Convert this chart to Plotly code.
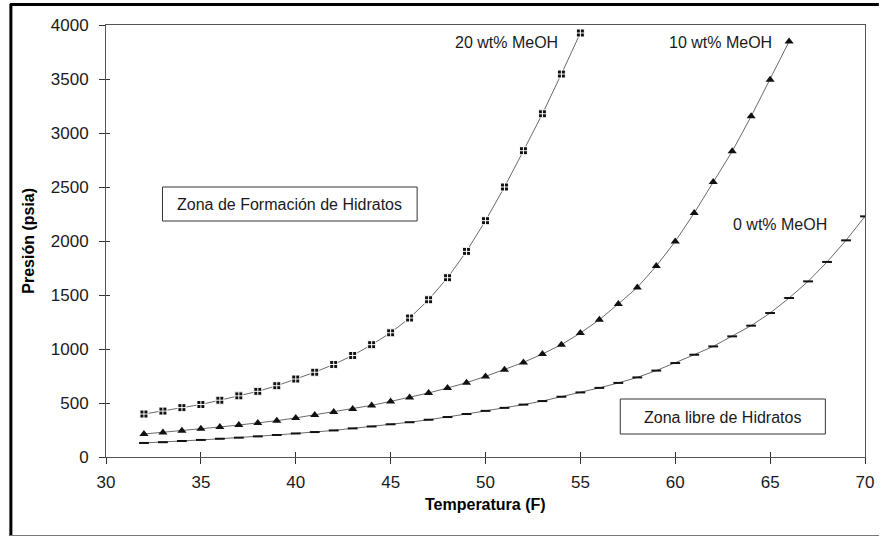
import plotly.graph_objects as go

# Temperatures (F)
temp_20 = list(range(32, 56))
temp_10 = list(range(32, 67))
temp_0 = list(range(32, 71))

# Hydrate formation pressure (psia)
pres_20 = [398, 425, 457, 486, 526, 566, 608, 660, 722, 785, 857, 940, 1040, 1150,
           1287, 1456, 1660, 1904, 2188, 2500, 2836, 3178, 3546, 3926]
pres_10 = [213, 228, 243, 262, 278, 296, 315, 336, 362, 390, 416, 444, 478, 515,
           552, 593, 639, 688, 746, 808, 876, 954, 1040, 1148, 1271, 1417, 1570,
           1768, 1996, 2259, 2546, 2830, 3154, 3494, 3848]
pres_0 = [130, 137, 148, 158, 169, 179, 191, 204, 218, 231, 246, 265, 283, 303,
          322, 345, 370, 398, 427, 455, 485, 518, 558, 598, 640, 686, 737, 800,
          870, 947, 1024, 1117, 1216, 1333, 1472, 1626, 1806, 2006, 2228]

x_ticks = [30, 35, 40, 45, 50, 55, 60, 65, 70]
y_ticks = [0, 500, 1000, 1500, 2000, 2500, 3000, 3500, 4000]

series_labels = ["20 wt% MeOH", "10 wt% MeOH", "0 wt% MeOH"]
zone_labels = ["Zona de Formación de Hidratos", "Zona libre de Hidratos"]

FONT = "Liberation Sans, Arial, sans-serif"
LINE_C = "#6a6a6a"

fig = go.Figure()
fig.add_trace(go.Scatter(
    x=temp_20, y=pres_20, mode="lines+markers", name=series_labels[0],
    line=dict(color=LINE_C, width=1),
    marker=dict(symbol="square-cross", size=8, color="#111111",
                line=dict(color="white", width=1))))
fig.add_trace(go.Scatter(
    x=temp_10, y=pres_10, mode="lines+markers", name=series_labels[1],
    line=dict(color=LINE_C, width=1),
    marker=dict(symbol="triangle-up", size=8, color="#111111")))
fig.add_trace(go.Scatter(
    x=temp_0, y=pres_0, mode="lines+markers", name=series_labels[2],
    line=dict(color=LINE_C, width=1),
    marker=dict(symbol="line-ew", size=7, color="#111111",
                line=dict(color="#111111", width=2))))
# empty trace to activate overlay axes (inner halves of crossing ticks)
fig.add_trace(go.Scatter(x=[], y=[], xaxis="x2", yaxis="y2", showlegend=False,
                         hoverinfo="skip"))

axis_common = dict(showgrid=False, zeroline=False,
                   tickfont=dict(family=FONT, size=17, color="#1a1a1a"))

fig.update_layout(
    width=886, height=537,
    margin=dict(l=106, r=14, t=25, b=80),
    paper_bgcolor="white", plot_bgcolor="white",
    showlegend=False,
    font=dict(family=FONT, color="#1a1a1a"),
    xaxis=dict(range=[30, 70], tickvals=x_ticks, ticks="outside", ticklen=6,
               tickwidth=1, tickcolor="#333", showline=True, linecolor="#555",
               linewidth=1, mirror=True, ticklabelstandoff=4, **axis_common),
    yaxis=dict(range=[0, 4000], tickvals=y_ticks, ticks="outside", ticklen=6,
               tickwidth=1, tickcolor="#333", showline=True, linecolor="#555",
               linewidth=1, mirror=True, ticklabelstandoff=7, **axis_common),
    xaxis2=dict(range=[30, 70], tickvals=x_ticks, ticks="inside", ticklen=5,
                tickwidth=1, tickcolor="#333", showline=False, showgrid=False,
                zeroline=False, showticklabels=False, overlaying="x", anchor="y2"),
    yaxis2=dict(range=[0, 4000], tickvals=y_ticks, ticks="inside", ticklen=4,
                tickwidth=1, tickcolor="#333", showline=False, showgrid=False,
                zeroline=False, showticklabels=False, overlaying="y", anchor="x2"),
)

# plot area pixel geometry for paper conversions
L, R, T, B = 106, 872, 25, 457
def px(x):
    return (x - L) / (R - L)
def py(y):
    return (B - y) / (B - T)

shapes = [
    # outer frame (top, left, bottom)
    dict(type="line", xref="paper", yref="paper", x0=px(9), x1=px(886), y0=py(4.5), y1=py(4.5),
         line=dict(color="black", width=3)),
    dict(type="line", xref="paper", yref="paper", x0=px(10), x1=px(10), y0=py(4), y1=py(536),
         line=dict(color="black", width=3)),
    dict(type="line", xref="paper", yref="paper", x0=px(9), x1=px(886), y0=py(535.5), y1=py(535.5),
         line=dict(color="#777", width=1)),
    # zone boxes
    dict(type="rect", xref="paper", yref="paper", x0=px(163), x1=px(420), y0=py(221), y1=py(187),
         line=dict(color="#333", width=1), fillcolor="white"),
    dict(type="rect", xref="paper", yref="paper", x0=px(625), x1=px(832), y0=py(434), y1=py(399),
         line=dict(color="#333", width=1), fillcolor="white"),
]
fig.update_layout(shapes=shapes)

ann = [
    dict(text=series_labels[0], x=px(510), y=py(42)),
    dict(text=series_labels[1], x=px(726), y=py(42)),
    dict(text=series_labels[2], x=px(786), y=py(225)),
    dict(text=zone_labels[0], x=px(291.5), y=py(204)),
    dict(text=zone_labels[1], x=px(728.5), y=py(417)),
]
for a in ann:
    fig.add_annotation(xref="paper", yref="paper", showarrow=False,
                       xanchor="center", yanchor="middle",
                       font=dict(family=FONT, size=16, color="#1a1a1a"), **a)

fig.add_annotation(xref="paper", yref="paper", showarrow=False, x=px(489), y=py(504),
                   text="<b>Temperatura (F)</b>", xanchor="center", yanchor="middle",
                   font=dict(family=FONT, size=16, color="black"))
fig.add_annotation(xref="paper", yref="paper", showarrow=False, x=px(27), y=py(241),
                   text="<b>Presión (psia)</b>", textangle=-90, xanchor="center",
                   yanchor="middle", font=dict(family=FONT, size=16, color="black"))

fig.write_html("out.html")
